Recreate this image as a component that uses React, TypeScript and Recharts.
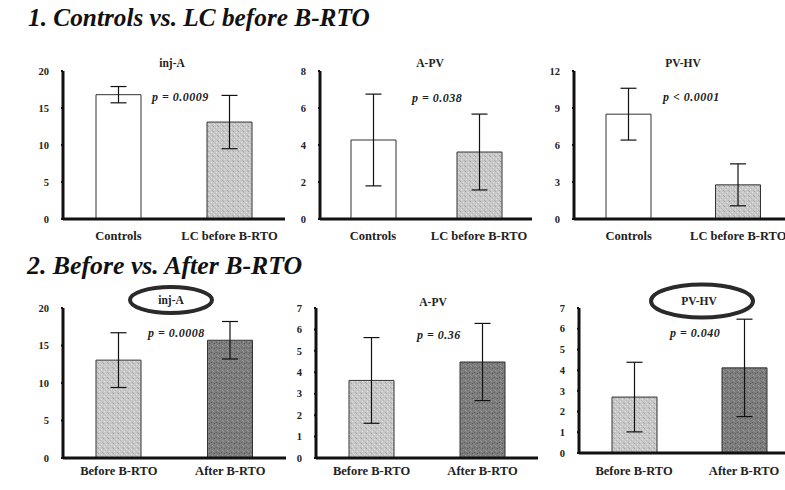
import { BarChart, Bar, XAxis, YAxis, ErrorBar, Cell } from 'recharts';

// groups
const controlGroups = ['Controls', 'LC before B-RTO'];
const rtoGroups = ['Before B-RTO', 'After B-RTO'];

// 1. Controls vs. LC before B-RTO (mean, SD)
const injAControlMean = [16.8, 13.1];
const injAControlSd = [1.1, 3.6];
const aPvControlMean = [4.27, 3.62];
const aPvControlSd = [2.48, 2.05];
const pvHvControlMean = [8.5, 2.77];
const pvHvControlSd = [2.1, 1.7];

// 2. Before vs. After B-RTO (mean, SD)
const injARtoMean = [13.05, 15.7];
const injARtoSd = [3.65, 2.5];
const aPvRtoMean = [3.62, 4.48];
const aPvRtoSd = [2.0, 1.8];
const pvHvRtoMean = [2.7, 4.11];
const pvHvRtoSd = [1.68, 2.35];

const ticks20 = [0, 5, 10, 15, 20];
const ticks8 = [0, 2, 4, 6, 8];
const ticks12 = [0, 3, 6, 9, 12];
const ticks7 = [0, 1, 2, 3, 4, 5, 6, 7];

const SERIF = "'Liberation Serif', 'Times New Roman', serif";
const Y_W = 50;
const X_H = 30;

interface PanelProps {
  x: number;
  y: number;
  w: number;
  h: number;
  names: string[];
  means: number[];
  sds: number[];
  ticks: number[];
  fills: string[];
  labelGap: number;
}

const Panel = ({ x, y, w, h, names, means, sds, ticks, fills, labelGap }: PanelProps) => {
  const data = names.map((name, i) => ({ name, mean: means[i], sd: sds[i] }));
  return (
    <div style={{ position: 'absolute', left: x - Y_W, top: y - 10 }}>
      <BarChart
        width={w + Y_W}
        height={h + 10 + X_H}
        data={data}
        margin={{ top: 10, right: 0, bottom: 0, left: 0 }}
      >
        <XAxis
          dataKey="name"
          interval={0}
          height={X_H}
          axisLine={{ stroke: '#111', strokeWidth: 3 }}
          tickLine={false}
          tickSize={0}
          tickMargin={labelGap}
          tick={{ fill: '#222', fontSize: 12.5, fontFamily: SERIF, fontWeight: 'bold' }}
        />
        <YAxis
          width={Y_W}
          domain={[0, ticks[ticks.length - 1]]}
          ticks={ticks}
          interval={0}
          allowDataOverflow
          axisLine={{ stroke: '#111', strokeWidth: 3 }}
          tickLine={{ stroke: '#111', strokeWidth: 2 }}
          tickSize={2}
          tickMargin={12}
          tick={{ fill: '#222', fontSize: 10.5, fontFamily: SERIF, fontWeight: 'bold' }}
        />
        <Bar dataKey="mean" barSize={45} stroke="#333" strokeWidth={1} isAnimationActive={false}>
          {data.map((d, i) => (
            <Cell key={d.name} fill={fills[i]} />
          ))}
          <ErrorBar dataKey="sd" width={8} stroke="#111" strokeWidth={1.2} direction="y" />
        </Bar>
      </BarChart>
    </div>
  );
};

const WHITE = '#ffffff';
const LIGHT = 'url(#grainLight)';
const DARK = 'url(#grainDark)';

const App = () => {
  return (
    <div
      style={{
        position: 'absolute',
        left: 0,
        top: 0,
        width: 785,
        height: 490,
        overflow: 'hidden',
        background: '#fff',
      }}
    >
      {/* grainy fills used by the gray bars */}
      <svg width={0} height={0} style={{ position: 'absolute' }}>
        <defs>
          <pattern id="grainLight" width={5} height={5} patternUnits="userSpaceOnUse">
            <rect width={5} height={5} fill="#c8c8c8" />
            <rect x={0} y={0} width={1} height={1} fill="#a4a4a4" />
            <rect x={3} y={1} width={1} height={1} fill="#e2e2e2" />
            <rect x={1} y={3} width={1} height={1} fill="#e4e4e4" />
            <rect x={4} y={4} width={1} height={1} fill="#acacac" />
            <rect x={2} y={2} width={1} height={1} fill="#b6b6b6" />
          </pattern>
          <pattern id="grainDark" width={5} height={5} patternUnits="userSpaceOnUse">
            <rect width={5} height={5} fill="#7c7c7c" />
            <rect x={1} y={0} width={1} height={1} fill="#5a5a5a" />
            <rect x={4} y={2} width={1} height={1} fill="#9a9a9a" />
            <rect x={0} y={3} width={1} height={1} fill="#969696" />
            <rect x={3} y={4} width={1} height={1} fill="#606060" />
            <rect x={2} y={1} width={1} height={1} fill="#8c8c8c" />
          </pattern>
        </defs>
      </svg>

      <Panel x={63} y={71} w={222} h={148} names={controlGroups} means={injAControlMean} sds={injAControlSd} ticks={ticks20} fills={[WHITE, LIGHT]} labelGap={12} />
      <Panel x={320} y={71} w={212} h={148} names={controlGroups} means={aPvControlMean} sds={aPvControlSd} ticks={ticks8} fills={[WHITE, LIGHT]} labelGap={12} />
      <Panel x={574} y={71} w={219} h={148} names={controlGroups} means={pvHvControlMean} sds={pvHvControlSd} ticks={ticks12} fills={[WHITE, LIGHT]} labelGap={12} />
      <Panel x={63} y={308} w={223} h={150} names={rtoGroups} means={injARtoMean} sds={injARtoSd} ticks={ticks20} fills={[LIGHT, DARK]} labelGap={8} />
      <Panel x={316} y={308} w={222} h={150} names={rtoGroups} means={aPvRtoMean} sds={aPvRtoSd} ticks={ticks7} fills={[LIGHT, DARK]} labelGap={8} />
      <Panel x={579} y={308} w={220} h={145} names={rtoGroups} means={pvHvRtoMean} sds={pvHvRtoSd} ticks={ticks7} fills={[LIGHT, DARK]} labelGap={13} />

      <svg
        width={785}
        height={490}
        style={{ position: 'absolute', left: 0, top: 0, pointerEvents: 'none' }}
      >
        <g fontFamily={SERIF} fontWeight="bold" fontStyle="italic" fill="#111">
          <text x={28} y={17} fontSize={25.3} dominantBaseline="central">1. Controls vs. LC before B-RTO</text>
          <text x={27} y={265} fontSize={25.8} dominantBaseline="central">2. Before vs. After B-RTO</text>
        </g>

        <g fontFamily={SERIF} fontWeight="bold" fill="#222" fontSize={11.5} textAnchor="middle">
          <text x={172} y={63} dominantBaseline="central">inj-A</text>
          <text x={430} y={63} dominantBaseline="central">A-PV</text>
          <text x={683} y={63} dominantBaseline="central">PV-HV</text>
          <text x={171} y={300} dominantBaseline="central">inj-A</text>
          <text x={433} y={302} dominantBaseline="central">A-PV</text>
          <text x={699} y={301} dominantBaseline="central">PV-HV</text>
        </g>

        <ellipse cx={171} cy={300} rx={41} ry={13} fill="none" stroke="#2a2a2a" strokeWidth={4} />
        <ellipse cx={702} cy={301} rx={51} ry={16.5} fill="none" stroke="#2a2a2a" strokeWidth={4} />

        <g fontFamily={SERIF} fontWeight="bold" fontStyle="italic" fill="#222" fontSize={12} letterSpacing={0.5}>
          <text x={152} y={97} dominantBaseline="central">p = 0.0009</text>
          <text x={412} y={98} dominantBaseline="central">p = 0.038</text>
          <text x={663} y={97} dominantBaseline="central">p &lt; 0.0001</text>
          <text x={148} y={333} dominantBaseline="central">p = 0.0008</text>
          <text x={417} y={335} dominantBaseline="central">p = 0.36</text>
          <text x={670} y={333} dominantBaseline="central">p = 0.040</text>
        </g>
      </svg>
    </div>
  );
};

export default App;
